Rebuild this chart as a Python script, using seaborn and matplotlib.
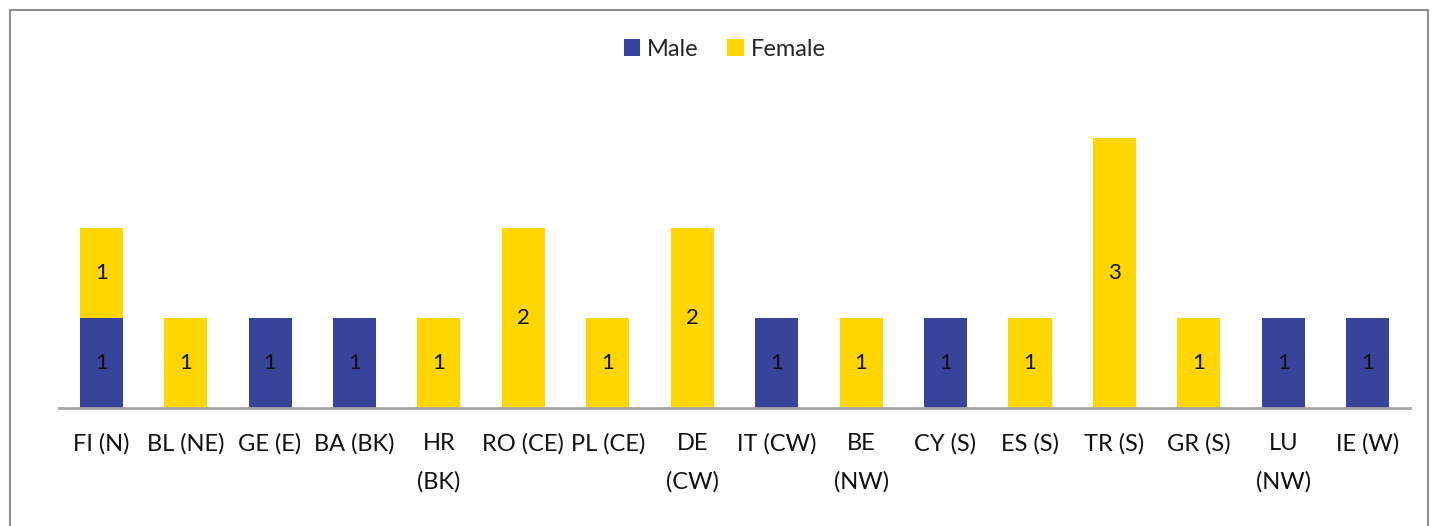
import matplotlib
matplotlib.use('Agg')
import matplotlib.pyplot as plt
import seaborn as sns
import numpy as np
from matplotlib.patches import Rectangle

# data
countries = ['FI (N)', 'BL (NE)', 'GE (E)', 'BA (BK)', 'HR\n(BK)', 'RO (CE)', 'PL (CE)', 'DE\n(CW)',
             'IT (CW)', 'BE\n(NW)', 'CY (S)', 'ES (S)', 'TR (S)', 'GR (S)', 'LU\n(NW)', 'IE (W)']
male = [1, 0, 1, 1, 0, 0, 0, 0, 1, 0, 1, 0, 0, 0, 1, 1]
female = [1, 1, 0, 0, 1, 2, 1, 2, 0, 1, 0, 1, 3, 1, 0, 0]

navy = '#38449A'
yellow = '#FFD600'

sns.set_style('white')
plt.rcParams['font.family'] = ['Lato', 'DejaVu Sans']

fig = plt.figure(figsize=(14.38, 5.26), dpi=100)
ax = fig.add_axes([0.041, 0.2243, 0.9395, 0.7187])

x = np.arange(len(countries))
sns.barplot(x=x, y=male, color=navy, saturation=1, width=0.51, linewidth=0,
            ax=ax, label='Male', native_scale=True)
sns.barplot(x=x, y=female, bottom=male, color=yellow, saturation=1, width=0.51, linewidth=0,
            ax=ax, label='Female', native_scale=True)

# value labels in the middle of each segment
for cont in ax.containers:
    labels = [str(int(round(b.get_height()))) if b.get_height() > 0 else '' for b in cont]
    ax.bar_label(cont, labels=labels, label_type='center', fontsize=16, color='#111111')

ax.set_xlim(-0.5, len(countries) - 0.5)
ax.set_ylim(0, 4.2)
ax.set_xticks(x)
ax.set_xticklabels(countries, fontsize=17, color='#111111', linespacing=2.0)
ax.tick_params(axis='x', length=0, pad=18)
ax.set_yticks([])
ax.set_xlabel('')
ax.set_ylabel('')
for s in ['top', 'right', 'left']:
    ax.spines[s].set_visible(False)
ax.spines['bottom'].set_color('#a6a6a6')
ax.spines['bottom'].set_linewidth(2)

handles, labs = ax.get_legend_handles_labels()
ax.legend(handles, labs, loc='center', bbox_to_anchor=(0.504, 1 - 49 / 526), bbox_transform=fig.transFigure,
          ncol=2, frameon=False, fontsize=17, handlelength=0.7, handleheight=0.7,
          handletextpad=0.3, columnspacing=1.2)

# outer chart frame
fig.patches.append(Rectangle((10 / 1438, -0.05), 1418 / 1438, 1 - 10 / 526 + 0.05,
                             transform=fig.transFigure, fill=False, edgecolor='#8c8c8c', linewidth=1.5))

fig.savefig('out.png', dpi=100)
